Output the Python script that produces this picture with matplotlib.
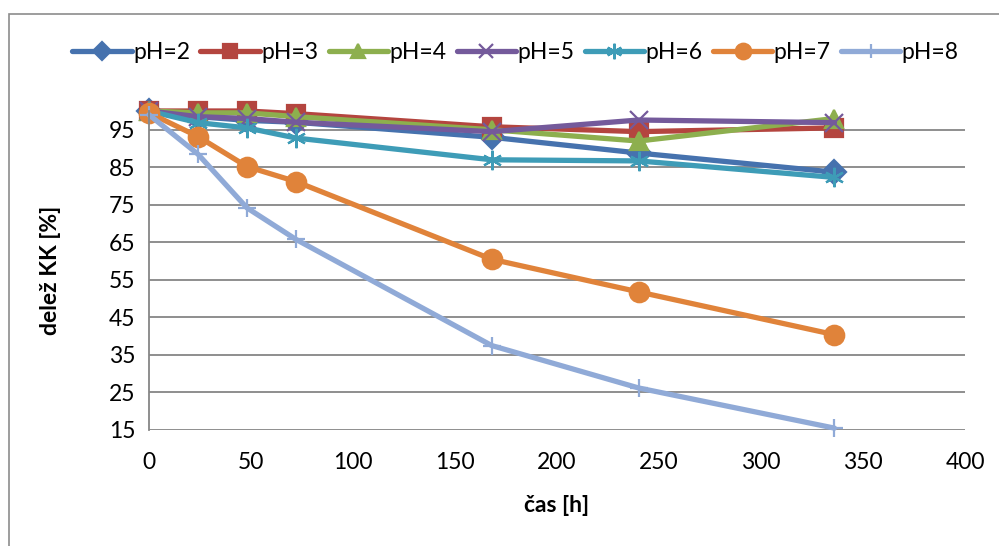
import matplotlib
matplotlib.use("Agg")
import matplotlib.pyplot as plt
from matplotlib.patches import Rectangle

plt.rcParams["font.family"] = ["Lato", "DejaVu Sans"]

# čas [h]
cas = [0, 24, 48, 72, 168, 240, 336]

# delež KK [%] po pH
ph2 = [100, 98.5, 97.5, 97, 93, 88.8, 83.7]
ph3 = [100, 100, 100, 99.3, 95.8, 94.5, 95.5]
ph4 = [100, 99.5, 99.5, 98.5, 95, 92, 98]
ph5 = [100, 98.5, 98, 97, 94.5, 97.6, 96.9]
ph6 = [100, 96.9, 95.5, 92.8, 87, 86.7, 82.3]
ph7 = [99.5, 93.2, 85.2, 81.2, 60.5, 51.8, 40.4]
ph8 = [99, 88.5, 74.2, 65.8, 37.5, 26.2, 15.5]

labels = ["pH=2", "pH=3", "pH=4", "pH=5", "pH=6", "pH=7", "pH=8"]
serije = [ph2, ph3, ph4, ph5, ph6, ph7, ph8]
barve = ["#4672AE", "#B4453F", "#8DAF4E", "#745A9B", "#3E9CB7", "#E0833A", "#90AAD7"]
markerji = ["D", "s", "^", "x", (6, 2, 0), "o", "+"]
velikosti = [12, 13, 13, 13, 14, 14, 13]

fig = plt.figure(figsize=(9.99, 5.46), dpi=100)
fig.patches.append(Rectangle((9 / 999, -0.01), 1.0, 1 - 14 / 546 + 0.01, transform=fig.transFigure,
                             fill=False, ec="#8C8C8C", lw=1.2))
ax = fig.add_axes([149 / 999, 116 / 546, 816 / 999, 319 / 546])

for y, lab, c, m, ms in zip(serije, labels, barve, markerji, velikosti):
    ax.plot(cas, y, color=c, lw=3.8, marker=m, ms=ms, mfc=c, mec=c,
            mew=1.6, label=lab, clip_on=False, solid_capstyle="round")

ax.set_xlim(0, 400)
ax.set_ylim(15, 100)
ax.set_xticks(range(0, 401, 50))
ax.set_yticks(range(15, 96, 10))
ax.grid(axis="y", color="#868686", lw=1.3)
ax.set_axisbelow(True)
for s in ["top", "right", "bottom"]:
    ax.spines[s].set_visible(False)
ax.spines["left"].set_color("#868686")
ax.spines["left"].set_linewidth(1.3)
ax.tick_params(length=0, labelsize=16.5, pad=10)
ax.tick_params(axis="x", pad=16)

ax.set_xlabel("čas [h]", fontsize=16.5, fontweight="bold", labelpad=16)
ax.set_ylabel("delež KK [%]", fontsize=16.5, fontweight="bold", labelpad=34)

leg = fig.legend(loc="upper center", bbox_to_anchor=(0.516, 0.96), ncol=7, frameon=False,
                 fontsize=16.5, handlelength=2.6, columnspacing=0.45, handletextpad=0.05,
                 markerscale=0.8)

fig.savefig("out.png", dpi=100)
